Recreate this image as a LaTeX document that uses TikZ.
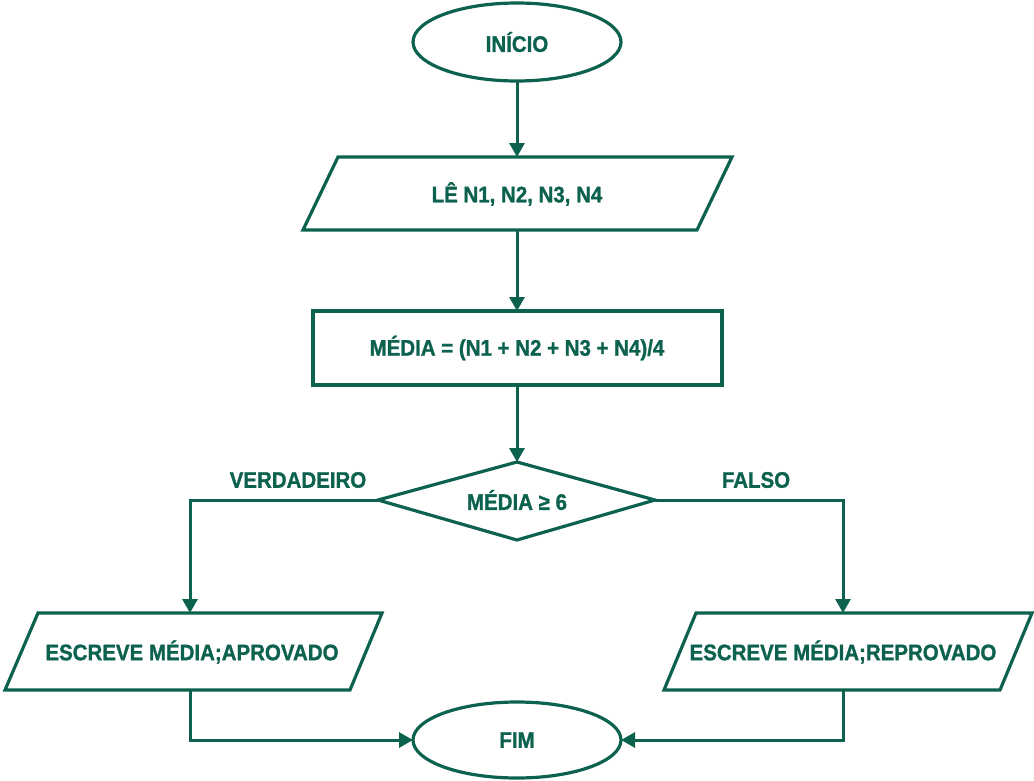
\documentclass[tikz,border=0pt]{standalone}
\usepackage{fontspec}
\setmainfont[FakeStretch=0.91,BoldFeatures={FakeBold=1.2}]{Liberation Sans}
\usetikzlibrary{shapes.geometric,arrows.meta}
\definecolor{fc}{RGB}{12,98,78}
\begin{document}
\begin{tikzpicture}[x=1pt,y=-1pt,
  every node/.style={font=\fontsize{22.5}{24}\selectfont\bfseries, text=fc},
  shp/.style={draw=fc, line width=3.2pt, fill=white, line join=miter},
  conn/.style={draw=fc, line width=3pt, -{Triangle[length=14pt,width=15pt]}}]
\useasboundingbox (0,0) rectangle (1034,780);
% shapes
\draw[shp] (517,42) ellipse [x radius=104, y radius=39];
\node (ini) at (517,42) {INÍCIO};
\coordinate (inib) at (517,81);
\draw[shp] (338,157) -- (732,157) -- (697,230) -- (303,230) -- cycle;
\node (le) at (517,194) {LÊ N1, N2, N3, N4};
\coordinate (let) at (517,157);
\coordinate (leb) at (517,230);
\draw[shp] (313,311) rectangle (722,385);
\node (med) at (517,348) {MÉDIA = (N1 + N2 + N3 + N4)/4};
\coordinate (medt) at (517,311);
\coordinate (medb) at (517,385);
\draw[shp] (378,500) -- (517,462) -- (655,500) -- (517,540) -- cycle;
\node (dec) at (517,500) {MÉDIA ≥ 6};
\coordinate (dect) at (517,462);
\coordinate (decl) at (378,500);
\coordinate (decr) at (655,500);
\draw[shp] (38,613) -- (382,613) -- (350,690) -- (5,690) -- cycle;
\node (apr) at (192,652) {ESCREVE MÉDIA;APROVADO};
\coordinate (aprt) at (190,613);
\coordinate (aprb) at (190,690);
\draw[shp] (696,613) -- (1032,613) -- (1000,690) -- (664,690) -- cycle;
\node (rep) at (843,652) {ESCREVE MÉDIA;REPROVADO};
\coordinate (rept) at (843,613);
\coordinate (repb) at (843,690);
\draw[shp] (517,740) ellipse [x radius=104, y radius=38];
\node (fim) at (517,740) {FIM};
\coordinate (fiml) at (413,740);
\coordinate (fimr) at (621,740);
% labels
\node (vl) at (298,480) {VERDADEIRO};
\node (fl) at (756,480) {FALSO};
% connectors
\draw[conn] (inib) -- (let);
\draw[conn] (leb) -- (medt);
\draw[conn] (medb) -- (dect);
\draw[conn] (decl) -| (aprt);
\draw[conn] (decr) -| (rept);
\draw[conn] (aprb) |- (fiml);
\draw[conn] (repb) |- (fimr);
\end{tikzpicture}
\end{document}
